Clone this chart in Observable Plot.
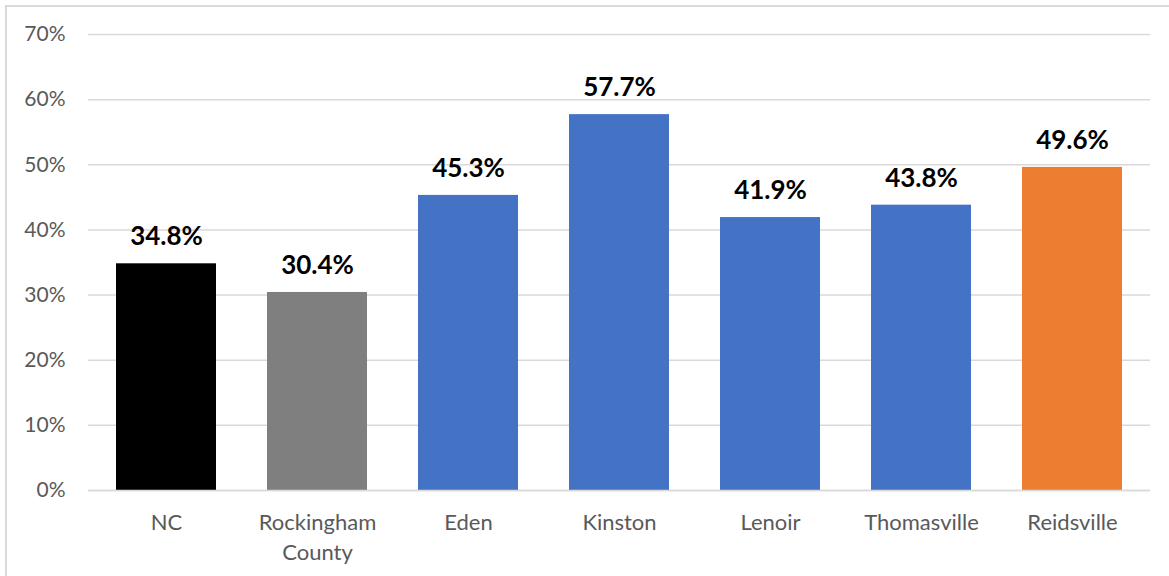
<!DOCTYPE html>
<html>
<head>
<meta charset="utf-8">
<script src="https://cdn.jsdelivr.net/npm/d3@7"></script>
<script src="https://cdn.jsdelivr.net/npm/@observablehq/plot@0.6"></script>
<style>
  html, body { margin: 0; padding: 0; background: #fff; }
  #frame { position: relative; width: 1169px; height: 576px; overflow: hidden; }
  #border { position: absolute; left: 5px; top: 5px; right: -10px; bottom: -10px; border: 2px solid #d9d9d9; pointer-events: none; }
  #chart { position: absolute; left: 0; top: 0; }
</style>
</head>
<body>
<div id="frame">
  <div id="chart"></div>
  <div id="border"></div>
</div>
<script>
const categories = ["NC", "Rockingham\nCounty", "Eden", "Kinston", "Lenoir", "Thomasville", "Reidsville"];
const values = [34.8, 30.4, 45.3, 57.7, 41.9, 43.8, 49.6];
const colors = ["#000000", "#7f7f7f", "#4472c4", "#4472c4", "#4472c4", "#4472c4", "#ed7d31"];
const yTicks = [0, 10, 20, 30, 40, 50, 60, 70];

const data = categories.map((c, i) => ({category: c, value: values[i], color: colors[i]}));

const chart = Plot.plot({
  width: 1169,
  height: 576,
  marginLeft: 88,
  marginRight: 19,
  marginTop: 34,
  marginBottom: 86,
  style: {fontFamily: "Lato, 'Open Sans', sans-serif", background: "transparent"},
  x: {domain: categories, paddingInner: 0.34, paddingOuter: 0.17, label: null},
  y: {domain: [0, 70], label: null},
  marks: [
    Plot.gridY(yTicks, {stroke: "#d9d9d9", strokeOpacity: 1, strokeWidth: 1.5}),
    Plot.barY(data, {x: "category", y: "value", fill: "color"}),
    Plot.ruleY([0], {stroke: "#d9d9d9", strokeWidth: 1.5}),
    Plot.text(data, {x: "category", y: "value", text: d => d.value.toFixed(1) + "%", dy: -27, fontSize: 26, fontWeight: "bold", fill: "#000"}),
    Plot.axisY(yTicks, {tickSize: 0, tickPadding: 23, tickFormat: d => d + "%", fontSize: 21, fill: "#595959", label: null}),
    Plot.axisX({tickSize: 0, tickPadding: 19, fontSize: 22, fill: "#595959", lineHeight: 1.34, label: null})
  ]
});
document.getElementById("chart").appendChild(chart);
</script>
</body>
</html>
